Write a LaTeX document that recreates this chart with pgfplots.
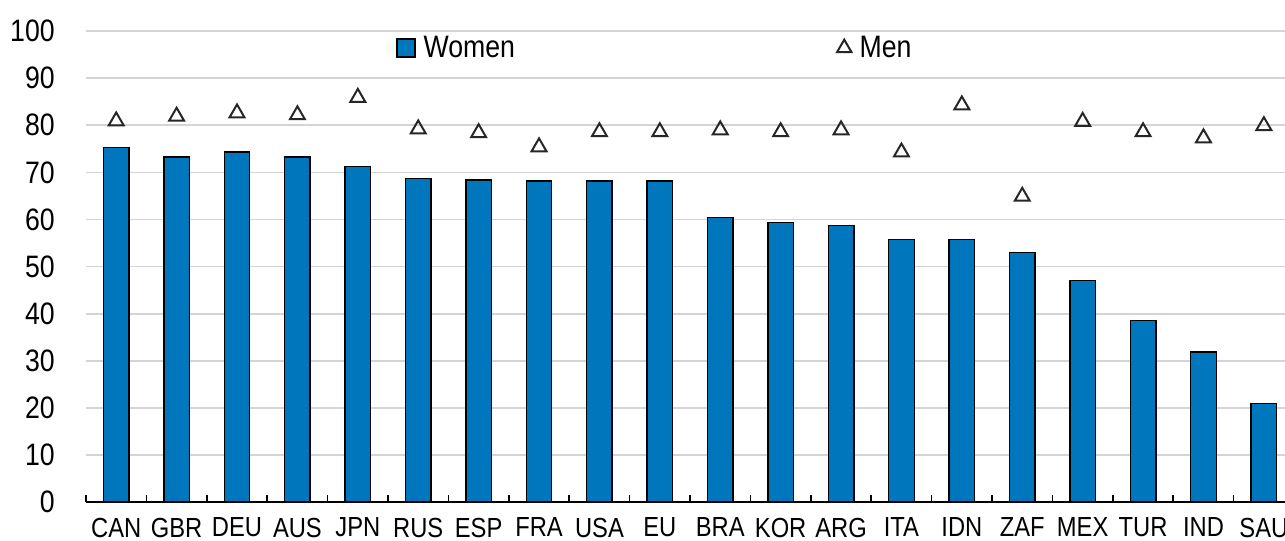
\documentclass[border=0pt]{standalone}
\usepackage{fontspec}
\setmainfont{Liberation Sans}[FakeStretch=0.86]
\usepackage{pgfplots}
\usepackage{pgfplotstable}
\pgfplotsset{compat=1.18}

\definecolor{barblue}{RGB}{0,118,189}
\definecolor{gridgray}{RGB}{212,212,212}

% women / men values
\pgfplotstableread{
x code women men
0 CAN 75.3 80.9
1 GBR 73.3 81.9
2 DEU 74.3 82.6
3 AUS 73.3 82.2
4 JPN 71.3 85.9
5 RUS 68.7 79.2
6 ESP 68.4 78.4
7 FRA 68.2 75.4
8 USA 68.2 78.6
9 EU 68.2 78.6
10 BRA 60.4 79.0
11 KOR 59.4 78.6
12 ARG 58.7 79.0
13 ITA 55.7 74.3
14 IDN 55.7 84.3
15 ZAF 53.0 64.9
16 MEX 47.1 80.8
17 TUR 38.6 78.6
18 IND 31.9 77.3
19 SAU 20.9 79.9
}\data

\begin{document}
\begin{tikzpicture}
\begin{axis}[
    scale only axis,
    width=604pt, height=235.5pt,
    xmin=-0.5, xmax=19.5,
    ymin=0, ymax=100,
    axis x line=bottom, axis y line=left,
    x axis line style={-, line width=1pt, black},
    y axis line style={draw=none},
    xtick={0,...,19},
    xticklabels from table={\data}{code},
    major x tick style={draw=none},
    minor xtick={-0.5,0.5,...,19.5},
    minor x tick style={black, line width=0.8pt},
    minor tick length=3.8pt,
    xtick align=inside,
    ytick={0,10,...,100},
    major y tick style={draw=none},
    ymajorgrids,
    grid style={gridgray, line width=0.8pt},
    /pgf/number format/assume math mode=true,
    yticklabel style={font=\fontsize{15.5}{18}\selectfont, xshift=-10pt},
    xticklabel style={font=\fontsize{13.8}{16}\selectfont, yshift=-4.4pt},
    legend columns=2,
    legend style={draw=none, fill=none, inner sep=0pt,
        at={(0.2566,0.964)}, anchor=west,
        font=\fontsize{15.5}{18}\selectfont,
        /tikz/every odd column/.append style={column sep=2pt},
        /tikz/every even column/.append style={column sep=159pt}},
]
\addplot[ybar, bar width=12.75pt, fill=barblue, draw=black, line width=0.7pt,
    legend image code/.code={\draw[fill=barblue, draw=black, line width=0.6pt] (0pt,-4.5pt) rectangle (9pt,4.5pt);}]
    table[x=x, y=women] {\data};
\addlegendentry{Women}
\addplot[only marks, mark=triangle, mark size=4.3pt,
    mark options={draw=black!85, line width=1pt},
    legend image code/.code={\draw[draw=black!85, line width=0.8pt, mark=triangle, mark size=4.2pt] plot coordinates {(4.2pt,0pt)};}]
    table[x=x, y=men] {\data};
\addlegendentry{Men}
\coordinate (bbsw) at (axis cs:-1.924,-8.07);
\coordinate (bbne) at (axis cs:19.35,106.6);
\end{axis}
\pgfresetboundingbox
\useasboundingbox (bbsw) rectangle (bbne);
\end{tikzpicture}
\end{document}
